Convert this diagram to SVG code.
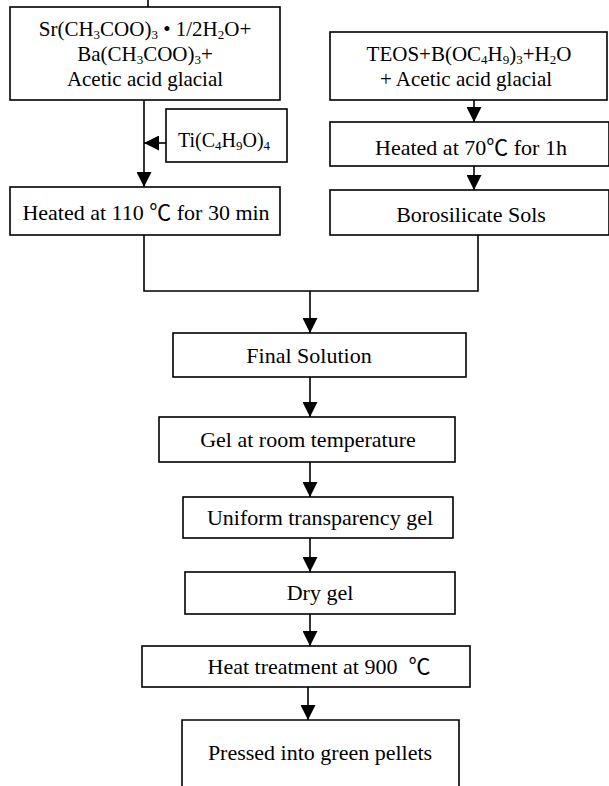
<svg xmlns="http://www.w3.org/2000/svg" width="609" height="786" viewBox="0 0 609 786">
<style>
.box{fill:#fff;stroke:#000;stroke-width:1.6}
.t{font-family:"Liberation Serif","Times New Roman","Noto Sans CJK SC",serif;font-size:22px;fill:#000;text-anchor:middle}
.m{font-size:21px}
.s{font-size:13px}
.c{fill:none;stroke:#000;stroke-width:1.6}
</style>
<defs>
<marker id="ah" markerUnits="userSpaceOnUse" markerWidth="15" markerHeight="15" refX="15" refY="7.5" orient="auto">
<path d="M0,0 L15,7.5 L0,15 z" fill="#000"/>
</marker>
</defs>
<rect width="609" height="786" fill="#fff"/>
<g id="connectors">
<line class="c" x1="148" y1="0" x2="148" y2="7"/>
<line class="c" x1="144" y1="100" x2="144" y2="187" marker-end="url(#ah)"/>
<line class="c" x1="166" y1="143" x2="144" y2="143" marker-end="url(#ah)"/>
<line class="c" x1="474" y1="100" x2="474" y2="122" marker-end="url(#ah)"/>
<line class="c" x1="474" y1="166" x2="474" y2="190" marker-end="url(#ah)"/>
<polyline class="c" points="144,235 144,291 478,291 478,235"/>
<line class="c" x1="310" y1="291" x2="310" y2="333" marker-end="url(#ah)"/>
<line class="c" x1="310" y1="377" x2="310" y2="417" marker-end="url(#ah)"/>
<line class="c" x1="310" y1="462" x2="310" y2="497" marker-end="url(#ah)"/>
<line class="c" x1="310" y1="538" x2="310" y2="572" marker-end="url(#ah)"/>
<line class="c" x1="310" y1="614" x2="310" y2="646" marker-end="url(#ah)"/>
<line class="c" x1="308" y1="687" x2="308" y2="720" marker-end="url(#ah)"/>
</g>
<g id="start-sr-ba">
<rect class="box" x="10" y="7" width="270" height="93"/>
<text class="t m" x="145" y="36">Sr(CH<tspan class="s" dy="3">3</tspan><tspan dy="-3">COO)</tspan><tspan class="s" dy="3">3</tspan><tspan dy="-3"> • 1/2H</tspan><tspan class="s" dy="3">2</tspan><tspan dy="-3">O+</tspan></text>
<text class="t m" x="145" y="61">Ba(CH<tspan class="s" dy="3">3</tspan><tspan dy="-3">COO)</tspan><tspan class="s" dy="3">3</tspan><tspan dy="-3">+</tspan></text>
<text class="t m" x="145" y="86">Acetic acid glacial</text>
</g>
<g id="ti">
<rect class="box" x="166" y="109" width="121" height="53"/>
<text class="t" x="224" y="147" style="font-size:20px">Ti(C<tspan class="s" dy="3">4</tspan><tspan dy="-3">H</tspan><tspan class="s" dy="3">9</tspan><tspan dy="-3">O)</tspan><tspan class="s" dy="3">4</tspan></text>
</g>
<g id="heated110">
<rect class="box" x="10" y="187" width="270" height="48"/>
<text class="t" x="146" y="220">Heated at 110 ℃ for 30 min</text>
</g>
<g id="teos">
<rect class="box" x="330" y="32" width="277" height="68"/>
<text class="t m" x="469" y="61">TEOS+B(OC<tspan class="s" dy="3">4</tspan><tspan dy="-3">H</tspan><tspan class="s" dy="3">9</tspan><tspan dy="-3">)</tspan><tspan class="s" dy="3">3</tspan><tspan dy="-3">+H</tspan><tspan class="s" dy="3">2</tspan><tspan dy="-3">O</tspan></text>
<text class="t m" x="466" y="86">+ Acetic acid glacial</text>
</g>
<g id="heated70">
<rect class="box" x="330" y="122" width="279" height="44"/>
<text class="t" x="471" y="155">Heated at 70℃ for 1h</text>
</g>
<g id="borosilicate">
<rect class="box" x="330" y="190" width="279" height="45"/>
<text class="t" x="471" y="222">Borosilicate Sols</text>
</g>
<g id="final">
<rect class="box" x="173" y="333" width="293" height="44"/>
<text class="t" x="309" y="363">Final Solution</text>
</g>
<g id="gel">
<rect class="box" x="159" y="417" width="296" height="45"/>
<text class="t" x="308" y="447">Gel at room temperature</text>
</g>
<g id="uniform">
<rect class="box" x="183" y="497" width="270" height="41"/>
<text class="t" x="320" y="525">Uniform transparency gel</text>
</g>
<g id="dry">
<rect class="box" x="185" y="572" width="270" height="42"/>
<text class="t" x="320" y="600">Dry gel</text>
</g>
<g id="heat900">
<rect class="box" x="142" y="646" width="328" height="41"/>
<text class="t" x="319" y="674" xml:space="preserve">Heat treatment at 900  ℃</text>
</g>
<g id="pressed">
<path class="box" d="M182,790 V720 H459 V790"/>
<text class="t" x="320" y="760">Pressed into green pellets</text>
</g>
</svg>
